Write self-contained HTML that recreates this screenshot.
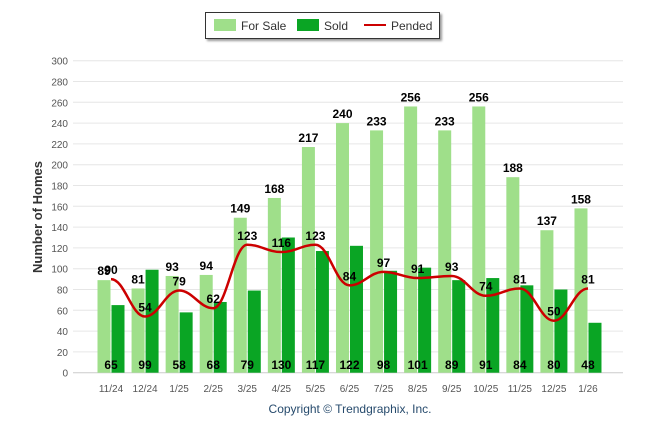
<!DOCTYPE html>
<html><head><meta charset="utf-8"><style>
body{margin:0;background:#fff;font-family:"Liberation Sans",Arial,sans-serif;}
svg text{font-family:"Liberation Sans",Arial,sans-serif;}
</style></head><body>
<svg id="c" width="646" height="434" xmlns="http://www.w3.org/2000/svg">
<g>
<rect x="205.5" y="12.5" width="234" height="26" fill="#fff" stroke="#333" stroke-width="1" style="filter:drop-shadow(2px 2px 1px #999)"/>
<g><rect x="214" y="19" width="22" height="12" fill="#9fdf8a"/><text x="241" y="30" font-size="12" fill="#333">For Sale</text></g>
<g><rect x="297" y="19" width="22" height="12" fill="#0aa524"/><text x="324" y="30" font-size="12" fill="#333">Sold</text></g>
<g><line x1="364" y1="25" x2="386" y2="25" stroke="#c00" stroke-width="2"/><text x="391" y="30" font-size="12" fill="#333">Pended</text></g>
</g>
<text transform="translate(42,217) rotate(-90)" text-anchor="middle" font-size="13" font-weight="bold" fill="#333">Number of Homes</text>
<text x="350" y="413" text-anchor="middle" font-size="12" fill="#274b6d">Copyright © Trendgraphix, Inc.</text>
<g id="grid"></g><g id="bars"></g><g id="line"></g><g id="labels"></g>
</svg>
<script>
const categories=["11/24","12/24","1/25","2/25","3/25","4/25","5/25","6/25","7/25","8/25","9/25","10/25","11/25","12/25","1/26"];
const forSale=[89,81,93,94,149,168,217,240,233,256,233,256,188,137,158];
const sold=[65,99,58,68,79,130,117,122,98,101,89,91,84,80,48];
const pended=[90,54,79,62,123,116,123,84,97,91,93,74,81,50,81];
const yTicks=[0,20,40,60,80,100,120,140,160,180,200,220,240,260,280,300];
const NS="http://www.w3.org/2000/svg";
function y(v){return 372.7-(v/300)*312;}
function x(i){return 111+i*34.07;}
function mk(t,a,p){const e=document.createElementNS(NS,t);for(const k in a)e.setAttribute(k,a[k]);p.appendChild(e);return e;}
const G=document.getElementById('grid'),B=document.getElementById('bars'),L=document.getElementById('line'),T=document.getElementById('labels');
yTicks.forEach(v=>{
 const l=mk('line',{x1:73,x2:623,y1:y(v),y2:y(v),stroke:v===0?'#ccc':'#e6e6e6','stroke-width':1},G);
 
 
 const t=mk('text',{x:68,y:y(v)+4,'text-anchor':'end','font-size':10,fill:'#555'},G);t.textContent=v;
 
 
});
categories.forEach((c,i)=>{
 const t=mk('text',{x:x(i),y:392,'text-anchor':'middle','font-size':10,fill:'#555'},G);t.textContent=c;
 
 
 const r1=mk('rect',{x:x(i)-13.5,y:y(forSale[i]),width:13,height:y(0)-y(forSale[i]),fill:'#9fdf8a'},B);
 
 
 const r2=mk('rect',{x:x(i)+0.5,y:y(sold[i]),width:13,height:y(0)-y(sold[i]),fill:'#0aa524'},B);
 
 
 const a=mk('text',{x:x(i)-7,y:y(forSale[i])-5,'text-anchor':'middle','font-size':12,'font-weight':'bold',fill:'#000'},T);a.textContent=forSale[i];
 
 
 const b=mk('text',{x:x(i),y:369,'text-anchor':'middle','font-size':12,'font-weight':'bold',fill:'#000'},T);b.textContent=sold[i];
 
 
 const p=mk('text',{x:x(i),y:y(pended[i])-5,'text-anchor':'middle','font-size':12,'font-weight':'bold',fill:'#000'},T);p.textContent=pended[i];
 
 
});
const pts=pended.map((v,i)=>[x(i),y(v)]);
let d='M'+pts[0][0]+','+pts[0][1];
for(let i=0;i<pts.length-1;i++){
 const p0=pts[i],p1=pts[i+1],dx=(p1[0]-p0[0])*0.4;
 d+=' C'+(p0[0]+dx)+','+p0[1]+' '+(p1[0]-dx)+','+p1[1]+' '+p1[0]+','+p1[1];
}
const path=mk('path',{d:d,fill:'none',stroke:'#c00','stroke-width':2.5},L);


</script>
</body></html>
